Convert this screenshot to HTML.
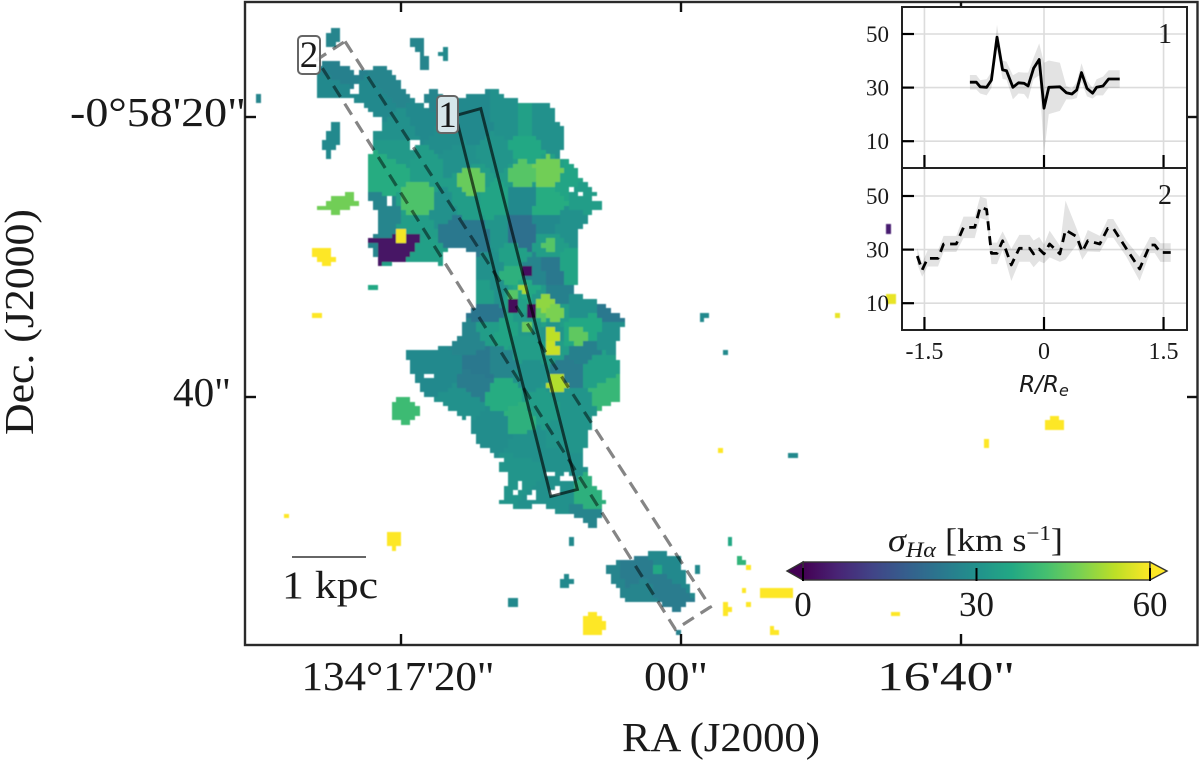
<!DOCTYPE html>
<html lang="en">
<head>
<meta charset="utf-8">
<title>H-alpha velocity dispersion map</title>
<style>
html,body{margin:0;padding:0;background:#fff;}
svg{display:block;filter:blur(0.35px);}
text{font-family:"Liberation Serif","DejaVu Serif",serif;fill:#1a1a1a;}
</style>
</head>
<body>
<svg id="chart" xmlns="http://www.w3.org/2000/svg" width="1200" height="761" viewBox="0 0 1200 761">
  <defs>
    <filter id="soft" x="-2%" y="-2%" width="104%" height="104%"><feGaussianBlur stdDeviation="0.55"/></filter>
    <linearGradient id="viridis-gradient" x1="0" x2="1" y1="0" y2="0"></linearGradient>
  </defs>
  <rect x="0" y="0" width="1200" height="761" fill="#fff"/>
  <g id="map" filter="url(#soft)" shape-rendering="crispEdges"></g>
  <g id="slits" fill="none"></g>
  <g id="main-axes"></g>

  <g>
    <rect x="298" y="36" width="22" height="38" rx="4" fill="#ffffff" fill-opacity="0.9" stroke="#666" stroke-width="2"/>
    <text x="309" y="67" font-size="37" text-anchor="middle">2</text>
  </g>
  <g>
    <rect x="437" y="96" width="21" height="37" rx="4" fill="#d6e6ea" stroke="#666" stroke-width="2"/>
    <text x="447.500" y="127" font-size="37" text-anchor="middle">1</text>
  </g>

  <g>
    <line x1="292" x2="366" y1="557" y2="557" stroke="#333" stroke-width="1.6"/>
    <text x="282" y="598" font-size="39" textLength="96" lengthAdjust="spacingAndGlyphs">1 kpc</text>
  </g>

  <g id="colorbar"></g>
  <text x="888" y="551" font-size="33" textLength="175" lengthAdjust="spacingAndGlyphs"><tspan font-style="italic">σ</tspan><tspan font-size="22" dy="6" font-style="italic">Hα</tspan><tspan dy="-6"> [km s</tspan><tspan dy="-11" font-size="21">−1</tspan><tspan dy="11">]</tspan></text>

  <g id="inset"></g>
</svg>

<script>
/* ---------- inset profile data (R/Re, sigma in km/s, 1-sigma error) ---------- */
const profile1R = [-0.93,-0.85,-0.80,-0.72,-0.66,-0.59,-0.52,-0.47,-0.39,-0.32,-0.25,-0.20,-0.13,-0.06,0.00,0.06,0.20,0.28,0.35,0.41,0.47,0.54,0.61,0.66,0.74,0.81,0.95];
const profile1Sigma = [32,32,30.3,30.1,32.8,48.8,36.6,36.3,30.1,31.8,31.6,30.6,37.2,40.5,22.3,30.1,30.3,28.1,27.6,29.1,35.6,29.7,27.9,30.1,30.6,33.2,33.2];
const profile1Err = [2.7,2.7,2.5,3,3,4.6,3.4,3.4,4.5,4,4,5,4,6,17,10,9,2.5,2,3,3.5,3,2,3,3.5,3.3,3.3];
const profile2R = [-1.59,-1.53,-1.46,-1.33,-1.26,-1.10,-1.01,-0.87,-0.80,-0.72,-0.66,-0.59,-0.52,-0.41,-0.31,-0.18,-0.13,-0.06,0.00,0.07,0.20,0.27,0.41,0.48,0.55,0.70,0.80,0.87,1.03,1.20,1.33,1.39,1.46,1.59];
const profile2Sigma = [27.6,22.4,26.7,26.7,32.1,32.1,38.3,38.3,45.8,45,28.6,28.6,33.3,24.3,30.5,30.5,28.4,30.2,28.4,32.1,28.4,37.3,34.8,29.2,33.3,32.1,37.9,37.9,30.5,22.8,31.7,31.7,28.9,28.9];
const profile2Err = [3,2.5,3,3,3,3,4,4,4,4,4,4,3.5,6,5,5,5,4.5,3.5,5,3,11,3,3,4,3,3.5,3.5,3,4.5,3,3,3.5,3.5];
const insetXTicks = [-1.5,0,1.5];
const insetXLabels = ["-1.5","0","1.5"];
const insetYTicks = [10,30,50];

/* ---------- main axis ticks: offsets in arcsec from RA 134d17m00s, Dec -0d58m40s ---------- */
const raTicks = [20,0,-20];
const raLabels = ["134°17'20\"","00\"","16'40\""];
const decTicks = [20,0];
const decLabels = ["-0°58'20\"","40\""];
const colorbarTicks = [0,30,60];

/* ---------- map data: [RA offset, Dec offset] in arcsec, sigma in km/s ---------- */
const bodyOutline = [[26.3,21.6],[26.3,23.6],[25.6,24.2],[24.6,24.2],[23.3,23.2],[22.6,23.6],[21.3,23.9],[20.6,23.0],[20.1,22.4],[19.2,21.4],[18.1,20.6],[17.2,20.5],[15.8,21.6],[14.4,21.9],[13.6,22.3],[12.9,21.7],[11.5,21.2],[10.1,21.2],[9.4,20.9],[9.1,20.0],[8.5,19.1],[8.4,18.1],[8.9,17.4],[7.9,16.9],[7.2,15.7],[5.9,14.3],[6.0,13.6],[6.7,13.1],[7.6,11.7],[7.6,8.4],[7.9,7.6],[6.0,6.9],[4.2,5.7],[4.9,3.6],[4.4,1.7],[4.4,0],[6.3,-0.9],[7.2,-4.3],[6.3,-6.1],[5.6,-7.4],[6.3,-9.3],[6.7,-9.0],[7.9,-8.3],[9.1,-8.1],[10.3,-7.4],[11.3,-7.9],[13.1,-7.4],[12.4,-5.4],[13.3,-5.0],[12.9,-4.3],[14.9,-3.1],[15.1,-1.9],[16.0,-1.1],[17.9,0],[18.6,0.3],[19.1,1.4],[19.9,3.4],[18.1,3.5],[16.1,4.1],[15.6,5.7],[14.9,6.7],[14.7,8.9],[14.7,10.1],[15.4,10.7],[16.4,10.9],[17.0,10.4],[17.1,9.6],[19.6,10.0],[21.7,9.4],[22.0,10.0],[22.7,11.4],[21.7,11.9],[22.0,13.4],[22.6,14.6],[22.4,16.7],[22.2,19.1],[21.5,19.3],[21.6,20.0],[22.7,20.7],[22.7,21.2],[23.9,21.4],[25.6,21.6]];
const companionOutline = [[5.7,-11.9],[4,-11.5],[1.9,-10.8],[0.1,-11.3],[-0.1,-12.9],[-0.9,-14.3],[0.5,-15.2],[1.6,-14.5],[4,-14.4],[5.1,-13.1]];
const voronoiBins = [[24.6,23.4,26],[25.1,22.3,28],[20.8,22.6,27],[22.1,21.2,28],[18.6,19.8,28],[20.1,19.1,30],[16.9,18.7,29],[15.1,19.4,28],[12.2,19.8,30],[11.5,19.8,34],[10.1,19.8,30],[20.1,17.6,32],[20.8,16.2,37],[18.5,16.6,33],[15.1,15.6,33],[11.5,16.1,33],[9.8,16.2,34],[11.3,17.9,36],[13.3,17.6,31],[16.1,17.3,30],[19.0,14.3,34],[11.5,14.4,28],[9.7,13.9,37],[15.4,13.7,33],[13.6,14.1,35],[17.2,13.4,30],[21.5,13.0,27],[7.2,14.8,33],[9.0,18.7,30],[8.1,15.5,35],[19.0,12.3,33],[16.3,12.3,24],[14.6,11.7,24],[11.4,11.9,22],[9.7,12.6,28],[8.3,12.3,30],[13.3,11.9,31],[18.6,10.5,34],[9.6,11.0,33],[8.3,9.6,35],[12.2,10.1,34],[13.6,9.4,30],[10.8,9.1,27],[9.2,9.3,24],[13.3,7.6,30],[12.4,8.9,38],[11.4,7.9,36],[12.1,7.4,34],[13.9,7.5,33],[14.0,6.2,23],[9.1,7.3,26],[9.9,6.9,32],[9.2,6.2,33],[10.1,6.2,34],[7.2,6.7,30],[5.2,6.2,24],[6.5,5.3,36],[7.6,4.6,36],[9.4,4.6,31],[9.4,3.6,33],[11.1,5.1,32],[13.9,5.0,33],[12.7,4.8,35],[15.3,4.4,27],[11.3,3.9,33],[7.2,3.5,26],[8.4,1.9,25],[9.0,1.1,31],[6.0,2.1,34],[5.1,0.5,40],[5.3,4.6,30],[14.4,2.4,24],[14.9,1.2,25],[13.1,2.6,27],[17.2,2.1,28],[12.9,0.3,37],[11.7,-1.4,38],[10.8,1.7,30],[10.1,-0.4,33],[7.9,-0.4,31],[13.4,-1.9,29],[11.0,-3.3,30],[8.6,-2.9,31],[11.5,-5.2,31],[8.9,-4.5,30],[9.6,-6.9,30],[6.3,-6.9,38],[6.5,-8.6,27],[15.8,-0.2,30],[3.7,-12.4,25],[1.6,-13.2,25],[0.8,-12.1,28],[2.9,-13.8,27],[5.1,-12.7,27]];
const topLeftClump = [[25.1,26.6],[24.6,26.4],[24.7,25.3],[25.4,25.1],[25.6,25.9]];
const topMiddleClump = [[19.4,26],[18.6,26],[18.4,24.8],[18.1,24.1],[18.2,23.5],[18.9,23.6],[19,24.8],[19.4,25.4]];
const topRightClump = [[17,25.1],[16.7,25.1],[16.7,24.2],[17.2,24.2],[17.4,24.6]];
const leftClump = [[26,18],[25.4,19.2],[24.9,19.9],[24.5,19.8],[24.4,18.9],[24.5,18.4],[25.4,17.1],[25.6,17.6]];
const upperNotchClump = [[18.6,21.6],[18.3,21.8],[18.3,22.5],[17.9,22.1],[17.2,21.8],[17.2,20.6],[18.1,20.6]];
const greenClump = [[26.2,13.6],[25.1,14.4],[23.5,14.9],[23.3,13.9],[24.6,13.2]];
const purpleClump = [[22.7,11.4],[18.9,11.9],[19,11.2],[19.7,10],[21.5,10],[21.6,9.2],[22,10.1],[22,11]];
const uniformClumps = [[topLeftClump,27],[topMiddleClump,27],[topRightClump,28],[leftClump,28],[upperNotchClump,27],[greenClump,47],[purpleClump,3]];
/* [RA offset, Dec offset, radius arcsec, sigma] */
const knots = [[11.2,9.1,0.35,2],[12.2,6.7,0.45,1],[10.8,6.3,0.45,1],[20.2,11.7,0.45,59],[1.9,-12.2,0.35,36],[0.4,-16.6,0.25,26],[19.9,-0.8,0.95,41],[6.4,-16.1,0.85,60],[20.7,-10.1,0.6,60],[-26.5,-1.8,0.55,60],[-5.9,-13.8,0.45,60],[-6.6,-13.8,0.45,60],[-7.4,-13.8,0.45,60],[-6.4,-16.6,0.35,60],[-3.1,-15,0.4,60],[-4.6,-12,0.25,60],[-4.1,-11.6,0.35,39],[-4.7,-14.7,0.25,60],[-4.3,-13.7,0.15,60],[-15.2,-15.4,0.25,60],[-3.3,-10.1,0.2,36],[-1.1,-12.2,0.12,28],[25.8,10.4,0.6,60],[25.4,9.9,0.45,60],[-10.9,6.1,0.2,58],[28.4,-8.4,0.2,60],[26.2,6,0.2,60],[30.3,21.6,0.3,27],[12.2,-14.5,0.45,28],[8.4,-13.1,0.45,28],[7.9,-10.2,0.2,28],[-1.4,5.9,0.3,28],[-2.9,3.4,0.2,28],[-7.8,-3.9,0.2,28],[22.2,7.9,0.2,36],[-2.8,-3.8,0.15,60],[-21.7,-3.1,0.15,60],[-14.9,7.1,0.4,58],[-14.7,12.1,0.15,5],[15.1,15.6,1.0,46],[11.5,16.1,1.0,44],[9.8,16.2,1.15,47],[19.0,14.3,1.3,43],[11.4,7.9,0.35,52],[12.1,7.4,0.4,44],[9.9,6.9,0.6,50],[9.2,6.2,0.6,48],[10.1,6.2,0.55,44],[7.6,4.6,0.7,45],[9.4,4.6,0.5,54],[9.4,3.6,0.5,55],[11.1,5.1,0.4,46],[9.0,1.1,0.7,53],[9.6,11,0.45,44]];
const mapHoles = [[9.5,-5.4,0.3],[8.3,-5.6,0.4],[9.1,-6.6,0.35],[11.7,-6.1,0.3],[12,-6.6,0.25],[10.8,-6.9,0.3],[23.4,22.1,0.3],[24.1,20.4,0.3],[19.2,18.2,0.25],[7.9,15.1,0.25],[7.3,14.6,0.25],[6.2,14.4,0.25],[21,14.2,0.25],[8.9,17.1,0.25],[15.3,-1.5,0.25],[17.4,-0.4,0.3],[18.2,1.6,0.25]];
const slit1Corners = [[16.1,20.1],[14.3,20.6],[7.4,-6.6],[9.3,-7.1]];
const slit2Corners = [[24,25.4],[-2.1,-15],[0.4,-16.6],[26,24.1]];
const viridisStops = ["#440154","#482475","#414487","#355f8d","#2a788e","#21918c","#22a884","#44bf70","#7ad151","#bddf26","#fde725"];

/* ---------- scales ---------- */
const mapX = ra => 681 - 14 * ra;
const mapY = dec => 397 - 14 * dec;
const cbarX = s => 803 + (s / 60) * 347;
const insetX = r => 1044 + 79.7 * r;
const insetY1 = v => 168 - 2.68 * v;
const insetY2 = v => 330 - 2.68 * v;

const SVGNS = "http://www.w3.org/2000/svg";
function mk(tag, attrs, parent) {
  const el = document.createElementNS(SVGNS, tag);
  for (const k in attrs) el.setAttribute(k, attrs[k]);
  parent.appendChild(el);
  return el;
}
function hex(c){return [parseInt(c.slice(1,3),16),parseInt(c.slice(3,5),16),parseInt(c.slice(5,7),16)];}
function viridis(s) {
  const t = Math.max(0, Math.min(1, s / 60)) * (viridisStops.length - 1);
  const i = Math.min(viridisStops.length - 2, Math.floor(t));
  const a = hex(viridisStops[i]), b = hex(viridisStops[i + 1]), f = t - i;
  return "rgb(" + a.map((v, k) => Math.round(v + (b[k] - v) * f)).join(",") + ")";
}
function inside(poly, x, y) {
  let c = false;
  for (let i = 0, j = poly.length - 1; i < poly.length; j = i++) {
    const a = poly[i], b = poly[j];
    if ((a[1] > y) !== (b[1] > y) && x < (b[0] - a[0]) * (y - a[1]) / (b[1] - a[1]) + a[0]) c = !c;
  }
  return c;
}
function sigmaAt(ra, dec) {
  for (const k of knots) {
    const r = Math.max(k[2], 0.24);
    if ((k[0]-ra)*(k[0]-ra) + (k[1]-dec)*(k[1]-dec) <= r*r) return k[3];
  }
  for (const h of mapHoles) {
    if ((h[0]-ra)*(h[0]-ra) + (h[1]-dec)*(h[1]-dec) <= h[2]*h[2]) return null;
  }
  for (const c of uniformClumps) if (inside(c[0], ra, dec)) return c[1];
  if (inside(bodyOutline, ra, dec) || inside(companionOutline, ra, dec)) {
    let best = 1e9, s = null;
    for (const b of voronoiBins) {
      const d = (b[0]-ra)*(b[0]-ra) + (b[1]-dec)*(b[1]-dec);
      if (d < best) { best = d; s = b[2]; }
    }
    return s;
  }
  return null;
}

/* ---------- map spaxels (1/3 arcsec), merged along rows ---------- */
const mapG = document.getElementById("map");
const spaxel = 1 / 3;
for (let row = 0; row < 138; row++) {
  const dec = 28 - row * spaxel;
  let runStart = null, runS = null;
  for (let col = 0; col <= 207; col++) {
    const ra = 33 - col * spaxel;
    const s = col < 207 ? sigmaAt(ra, dec) : null;
    if (s !== runS) {
      if (runS !== null) {
        const x0 = Math.round(mapX(33 - runStart * spaxel));
        const x1 = Math.round(mapX(33 - col * spaxel));
        const y0 = Math.round(mapY(dec));
        const y1 = Math.round(mapY(dec - spaxel));
        const cell = mk("rect", {x: x0, y: y0, width: x1 - x0, height: y1 - y0, fill: viridis(runS)}, mapG);
        
        
      }
      runStart = col; runS = s;
    }
  }
}

/* ---------- slits ---------- */
const slitsG = document.getElementById("slits");
const pts = arr => arr.map(p => mapX(p[0]).toFixed(1) + "," + mapY(p[1]).toFixed(1)).join(" ");
const slit2 = mk("polygon", {points: pts(slit2Corners), stroke: "#000", "stroke-opacity": 0.48, "stroke-width": 3.2, "stroke-dasharray": "13 8"}, slitsG);


const slit1 = mk("polygon", {points: pts(slit1Corners), stroke: "#000", "stroke-opacity": 0.62, "stroke-width": 3}, slitsG);



/* ---------- main axes ---------- */
const ax = document.getElementById("main-axes");
const frame = mk("rect", {x: 245, y: 2, width: 952.5, height: 643, fill: "none", stroke: "#2a2a2a", "stroke-width": 2.4}, ax);


const raWidths = [193, 64, 138];
raTicks.forEach((t, i) => {
  const x = mapX(t);
  const b = mk("line", {x1: x, x2: x, y1: 645, y2: 634, stroke: "#111", "stroke-width": 2.4}, ax);
  
  
  const tp = mk("line", {x1: x, x2: x, y1: 2, y2: 12, stroke: "#111", "stroke-width": 2.4}, ax);
  
  
  const lab = mk("text", {x: x + (i === 1 ? -5 : i === 2 ? -15 : -3), y: 690, "font-size": 41, "text-anchor": "middle", textLength: raWidths[i], lengthAdjust: "spacingAndGlyphs"}, ax);
  
  
  lab.textContent = raLabels[i];
});
const decWidths = [176, 58];
const decRight = [246, 231];
decTicks.forEach((t, i) => {
  const y = mapY(t);
  const l = mk("line", {x1: 245, x2: 256, y1: y, y2: y, stroke: "#111", "stroke-width": 2.4}, ax);
  
  
  const r = mk("line", {x1: 1187, x2: 1197, y1: y, y2: y, stroke: "#111", "stroke-width": 2.4}, ax);
  
  
  const lab = mk("text", {x: decRight[i], y: y + 9, "font-size": 41, "text-anchor": "end", textLength: decWidths[i], lengthAdjust: "spacingAndGlyphs"}, ax);
  
  
  lab.textContent = decLabels[i];
});
const xTitle = mk("text", {x: 721, y: 751, "font-size": 41, "text-anchor": "middle", textLength: 198, lengthAdjust: "spacingAndGlyphs"}, ax);


xTitle.textContent = "RA (J2000)";
const yTitle = mk("text", {x: 0, y: 0, "font-size": 41, "text-anchor": "middle", textLength: 226, lengthAdjust: "spacingAndGlyphs", transform: "translate(33,322) rotate(-90)"}, ax);


yTitle.textContent = "Dec. (J2000)";

/* ---------- colorbar ---------- */
const grad = document.getElementById("viridis-gradient");
viridisStops.forEach((c, i) => {
  mk("stop", {offset: (i / (viridisStops.length - 1)).toFixed(2), "stop-color": c}, grad);
});
const cb = document.getElementById("colorbar");
const cbTop = 562, cbBot = 580;
const cbBody = mk("rect", {x: cbarX(0), y: cbTop, width: cbarX(60) - cbarX(0), height: cbBot - cbTop, fill: "url(#viridis-gradient)", stroke: "#333", "stroke-width": 1.4}, cb);


const cbLow = mk("polygon", {points: cbarX(0) + "," + cbTop + " " + (cbarX(0) - 16) + "," + (cbTop + 9) + " " + cbarX(0) + "," + cbBot, fill: viridis(0), stroke: "#333", "stroke-width": 1.4}, cb);


const cbHigh = mk("polygon", {points: cbarX(60) + "," + cbTop + " " + (cbarX(60) + 17) + "," + (cbTop + 9) + " " + cbarX(60) + "," + cbBot, fill: viridis(60), stroke: "#333", "stroke-width": 1.4}, cb);


colorbarTicks.forEach(t => {
  const x = cbarX(t);
  const tk = mk("line", {x1: x, x2: x, y1: 568, y2: 581, stroke: "#000", "stroke-width": 2}, cb);
  
  
  const lab = mk("text", {x: x, y: 616, "font-size": 35, "text-anchor": "middle"}, cb);
  
  
  lab.textContent = String(t);
});

/* ---------- insets ---------- */
const inset = document.getElementById("inset");
const insetBg = mk("rect", {x: 902, y: 7, width: 285, height: 323, fill: "#fff"}, inset);



function panel(name, yScale, top, bottom, rs, sig, err, dash, number) {
  insetYTicks.forEach(v => {
    const g = mk("line", {x1: 902, x2: 1187, y1: yScale(v), y2: yScale(v), stroke: "#dcdcdc", "stroke-width": 1.6}, inset);
    
    
  });
  insetXTicks.forEach(v => {
    const g = mk("line", {x1: insetX(v), x2: insetX(v), y1: top, y2: bottom, stroke: "#dcdcdc", "stroke-width": 1.6}, inset);
    
    
  });
  const upper = rs.map((r, i) => insetX(r).toFixed(1) + "," + yScale(sig[i] + err[i]).toFixed(1));
  const lower = rs.map((r, i) => insetX(r).toFixed(1) + "," + yScale(sig[i] - err[i]).toFixed(1)).reverse();
  const band = mk("polygon", {points: upper.concat(lower).join(" "), fill: "#000", "fill-opacity": 0.11, stroke: "none"}, inset);
  
  
  const lineAttrs = {points: rs.map((r, i) => insetX(r).toFixed(1) + "," + yScale(sig[i]).toFixed(1)).join(" "), fill: "none", stroke: "#000", "stroke-width": 2.8, "stroke-linejoin": "round"};
  if (dash) lineAttrs["stroke-dasharray"] = "9 6";
  const line = mk("polyline", lineAttrs, inset);
  
  
  const fr = mk("rect", {x: 902, y: top, width: 285, height: bottom - top, fill: "none", stroke: "#222", "stroke-width": 2}, inset);
  
  
  insetYTicks.forEach(v => {
    const t = mk("line", {x1: 902, x2: 914, y1: yScale(v), y2: yScale(v), stroke: "#000", "stroke-width": 2.2}, inset);
    
    
    const lab = mk("text", {x: 889, y: yScale(v) + 8, "font-size": 23, "text-anchor": "end"}, inset);
    
    
    lab.textContent = String(v);
  });
  insetXTicks.forEach(v => {
    const t = mk("line", {x1: insetX(v), x2: insetX(v), y1: bottom - 13, y2: bottom, stroke: "#000", "stroke-width": 2.2}, inset);
    
    
  });
  const num = mk("text", {x: 1165, y: top + 36, "font-size": 28, "text-anchor": "middle"}, inset);
  
  
  num.textContent = String(number);
}
panel("profile-1", insetY1, 7, 168, profile1R, profile1Sigma, profile1Err, false, 1);
panel("profile-2", insetY2, 168, 330, profile2R, profile2Sigma, profile2Err, true, 2);
insetXTicks.forEach((v, i) => {
  const lab = mk("text", {x: insetX(v), y: 359, "font-size": 24, "text-anchor": "middle"}, inset);
  
  
  lab.textContent = insetXLabels[i];
});
const rr = mk("text", {x: 1044, y: 392, "font-size": 23, "text-anchor": "middle", "font-style": "italic", style: "font-family:'DejaVu Sans',sans-serif"}, inset);


rr.textContent = "R/R";
const rrSub = mk("tspan", {"font-size": 16, dy: 4}, rr);


rrSub.textContent = "e";
</script>
</body>
</html>
